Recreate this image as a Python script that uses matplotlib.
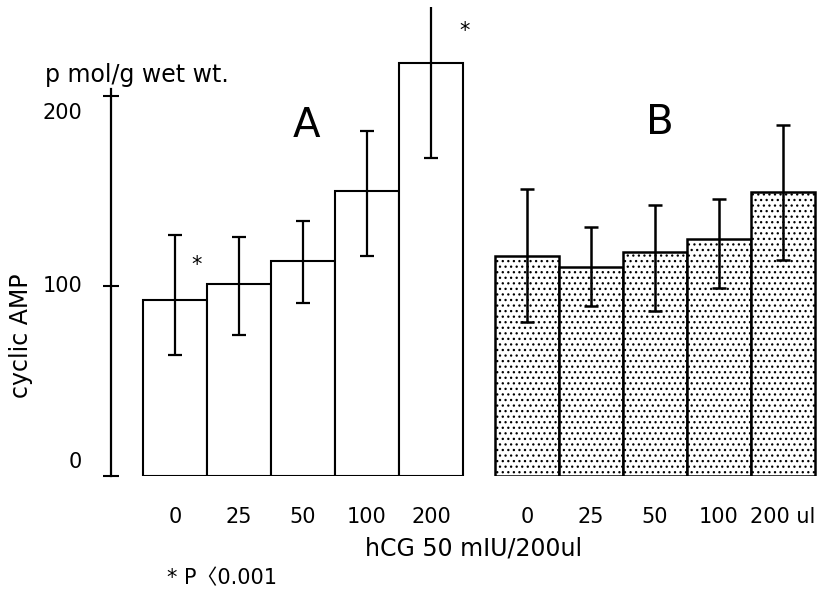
import matplotlib
matplotlib.use("Agg")
import matplotlib.pyplot as plt
import matplotlib.transforms as mtrans
import numpy as np

plt.rcParams['font.family'] = ['DejaVu Sans', 'Noto Sans CJK JP']
plt.rcParams['hatch.color'] = '#555555'
plt.rcParams['hatch.linewidth'] = 0.9

# ---- data ----
doses = ['0', '25', '50', '100', '200']
b_labels = ['0', '25', '50', '100', '200 ul']
a_mean = [92.6, 101.0, 113.3, 149.8, 217.5]
a_err_low = [29.0, 27.0, 22.0, 34.0, 50.0]
a_err_high = [34.0, 25.0, 21.0, 32.0, 50.0]
b_mean = [115.8, 110.2, 117.7, 124.7, 149.6]
b_err_low = [35.0, 21.0, 31.0, 26.0, 36.0]
b_err_high = [35.0, 21.0, 25.0, 21.0, 35.0]
y_ticks = [0, 100, 200]
y_tick_labels = ['0', '100', '200']

fig = plt.figure(figsize=(8.4, 5.99), dpi=100)
W, H = 840, 599
ax = fig.add_axes([111 / W, (H - 476) / H, 729 / W, 469 / H])

a_x = np.arange(len(a_mean))
b_x = np.arange(len(b_mean)) + 5.5

ax.bar(a_x, a_mean, width=1.0, color='white', edgecolor='black', linewidth=1.5, zorder=2)
ax.bar(b_x, b_mean, width=1.0, color='white', edgecolor='black', linewidth=1.8,
       hatch='...', zorder=2)
ax.errorbar(a_x, a_mean, yerr=[a_err_low, a_err_high], fmt='none', ecolor='black',
            elinewidth=1.6, capsize=4.7, capthick=1.6, zorder=3)
ax.errorbar(b_x, b_mean, yerr=[b_err_low, b_err_high], fmt='none', ecolor='black',
            elinewidth=1.8, capsize=4.7, capthick=1.8, zorder=3)

ax.set_xlim(-1.0, 10.39)
ax.set_ylim(0, 246.8)

for s in ['top', 'right', 'bottom']:
    ax.spines[s].set_visible(False)
ax.spines['left'].set_linewidth(1.6)
ax.spines['left'].set_bounds(0, 203.7)

ax.set_yticks(y_ticks)
ax.set_yticklabels([])
ax.tick_params(axis='y', direction='inout', length=11, width=1.5)
# y tick labels placed with the small offsets seen in the reference
offs = {0: 14, 100: 0, 200: -17}
ytr = ax.get_yaxis_transform()
for v, lab in zip(y_ticks, y_tick_labels):
    t = ytr + mtrans.ScaledTranslation(-29 / 100, offs[v] / 100, fig.dpi_scale_trans)
    ax.text(0, v, lab, transform=t, ha='right', va='center', fontsize=15)

ax.set_xticks(list(a_x) + list(b_x))
ax.set_xticklabels(doses + b_labels, fontsize=15)
ax.tick_params(axis='x', length=0, pad=22)

ax.text(2.05, 184, 'A', fontsize=29, ha='center', va='center')
ax.text(7.57, 186, 'B', fontsize=29, ha='center', va='center')
ax.text(0.34, 111, '*', fontsize=15, ha='center', va='center')
ax.text(4.52, 234, '*', fontsize=15, ha='center', va='center')

fig.text(45 / W, 1 - 75 / H, 'p mol/g wet wt.', fontsize=17, ha='left', va='center')
fig.text(21 / W, 1 - 336 / H, 'cyclic AMP', fontsize=17, rotation=90, ha='center', va='center')
fig.text(474 / W, 1 - 548 / H, 'hCG 50 mIU/200ul', fontsize=17, ha='center', va='center')
fig.text(167 / W, 1 - 578 / H, '* P〈0.001', fontsize=15, ha='left', va='center')

fig.savefig('out.png', dpi=100)
